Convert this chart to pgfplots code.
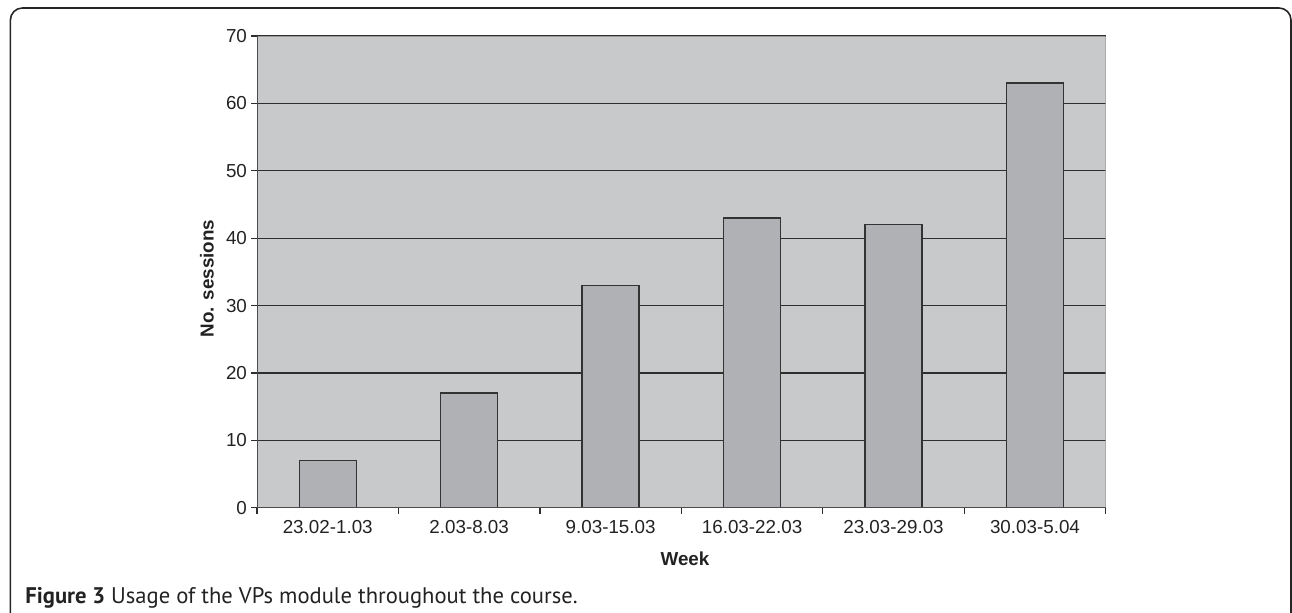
\documentclass[border=0pt]{standalone}
\usepackage{pgfplots}
\pgfplotsset{compat=1.18}
\usepackage{fontspec}
\setmainfont{Liberation Sans}
\newfontfamily\capfont{PT Sans}
\definecolor{plotbg}{HTML}{C8C9CB}
\definecolor{barfill}{HTML}{B0B1B4}
\definecolor{gridc}{HTML}{2E2E2E}
\definecolor{framec}{HTML}{9A9A9A}
\definecolor{txt}{HTML}{222222}
\begin{document}
\begin{tikzpicture}
\useasboundingbox (0,0) rectangle (646pt,306pt);
\draw[line width=0.8pt, color=black!85] (5.2pt,-5pt) -- (5.2pt,296pt) arc[start angle=180,end angle=90,radius=6pt] -- (639.5pt,302pt) arc[start angle=90,end angle=0,radius=6pt] -- (645.5pt,-5pt);
\begin{axis}[
  at={(128.5pt,52.15pt)}, anchor=south west, scale only axis,
  width=424.35pt, height=235.85pt,
  xmin=-0.5, xmax=5.5, ymin=0, ymax=70,
  ytick={0,10,...,70},
  xtick={0,...,5},
  xticklabels={23.02-1.03,2.03-8.03,9.03-15.03,16.03-22.03,23.03-29.03,30.03-5.04},
  minor xtick={-0.5,0.5,...,5.5},
  major x tick style={draw=none},
  minor x tick style={draw=gridc, line width=0.6pt},
  minor tick length=3pt,
  major tick length=3pt,
  y tick style={draw=gridc, line width=0.6pt},
  tick align=outside,
  xtick pos=bottom, ytick pos=left,
  axis line style={draw=none},
  axis background/.style={fill=plotbg},
  ymajorgrids,
  grid style={draw=gridc, line width=0.6pt},
  tick label style={font=\fontsize{9.4}{11}\selectfont, text=txt},
  yticklabel style={xshift=1.5pt},
  /pgf/number format/assume math mode=true,
]
\addplot[ybar, bar width=28.5pt, fill=barfill, draw=black!80, line width=0.7pt]
  coordinates {(0,7) (1,17) (2,33) (3,43) (4,42) (5,63)};
\draw[framec, line width=0.7pt] (rel axis cs:0,1) -- (rel axis cs:1,1) -- (rel axis cs:1,0);
\draw[black!70, line width=0.8pt] (rel axis cs:0,1) -- (rel axis cs:0,0) -- (rel axis cs:1,0);
\end{axis}
\node[font=\bfseries\fontsize{9.4}{11}\selectfont, text=txt] at (342.5pt,26.5pt) {Week};
\node[rotate=90, font=\bfseries\fontsize{9.4}{11}\selectfont, text=txt] at (103.5pt,166.75pt) {No. sessions};
\node[anchor=base west, inner sep=0pt, font=\capfont\fontsize{11.3}{13}\selectfont, text=txt] at (12.5pt,4.5pt) {\textbf{Figure 3} Usage of the VPs module throughout the course.};
\end{tikzpicture}
\end{document}
